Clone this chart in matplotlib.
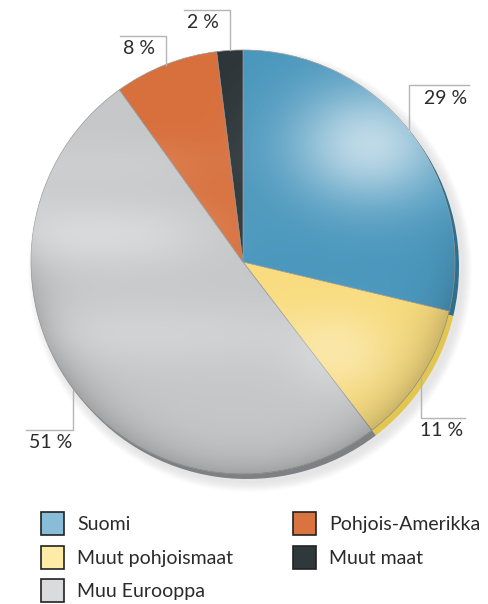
import numpy as np
import matplotlib
matplotlib.use("Agg")
import matplotlib.pyplot as plt
from matplotlib.patches import Circle, Rectangle

plt.rcParams['font.family'] = ['Lato', 'DejaVu Sans']

# data
regions = ["Suomi", "Muut pohjoismaat", "Muu Eurooppa", "Pohjois-Amerikka", "Muut maat"]
shares = [29, 11, 51, 8, 2]
pct_labels = ["29 %", "11 %", "51 %", "8 %", "2 %"]

pie_colors = ["#4a97bd", "#f9dc7e", "#c5c7c9", "#d8703d", "#2e3639"]
rim_colors = ["#2f6f8e", "#e2c64e", "#7e8083", "#a8552c", "#1c2224"]
legend_colors = ["#88bcd7", "#fdeba6", "#d9dbdc", "#d9733f", "#2f383b"]

# layout (pixels, y up)
W, H = 488, 604
cx, cy, R = 243, 342, 212
leader_y = [519, 186, 174, 568, 594]
leader_run = [60, 44, -47, -46, -46]
fs = 14

fig = plt.figure(figsize=(W / 100, H / 100), dpi=100)
ax = fig.add_axes([0, 0, 1, 1])

# soft shadow
for k in range(10):
    ax.add_patch(Circle((cx + 7, cy - 8), R + 10 - k, color="#9a9a9a",
                        alpha=0.025, lw=0))

# rim (thickness of the disc)
ax.pie(shares, colors=rim_colors, startangle=90, counterclock=False,
       center=(cx + 4, cy - 5), radius=R, wedgeprops=dict(lw=0))

wedges, _ = ax.pie(shares, colors=pie_colors, startangle=90, counterclock=False,
                   center=(cx, cy), radius=R,
                   wedgeprops=dict(lw=0.5, edgecolor="#9a9a9a"))

# gloss overlay
xs = np.linspace(cx - R, cx + R, 300)
ys = np.linspace(cy - R, cy + R, 300)
X, Y = np.meshgrid(xs, ys)
left = 1 / (1 + np.exp((X - 290) / 40))
far_left = 1 / (1 + np.exp((X - 190) / 25))
hl = 0.65 * np.exp(-(((X - 370) / 80) ** 2 + ((Y - 460) / 60) ** 2))
hl_y = 0.30 * np.exp(-(((X - 340) / 50) ** 2 + ((Y - 250) / 40) ** 2))
band1 = 0.35 * np.exp(-((Y - 370) / 35) ** 2) * far_left
band2 = 0.22 * np.exp(-((Y - 270) / 35) ** 2) * left
band3 = 0.12 * np.exp(-((Y - 440) / 25) ** 2) * far_left
rr = np.hypot(X - cx, Y - cy) / R
dark = 0.18 * np.clip(rr, 0, 1) ** 10 * np.clip((cy + 60 - Y) / 120, 0, 1)
rgba = np.zeros(X.shape + (4,))
white_a = np.clip(hl + hl_y + band1 + band2 + band3, 0, 0.8)
rgba[..., :3] = (white_a / (white_a + dark + 1e-9))[..., None]
rgba[..., 3] = np.clip(white_a + dark, 0, 0.85)
im = ax.imshow(rgba, extent=(cx - R, cx + R, cy - R, cy + R), origin="lower",
               interpolation="bilinear", zorder=3)
im.set_clip_path(Circle((cx, cy), R, transform=ax.transData))

# leader lines and labels
for w, txt, ly, run in zip(wedges, pct_labels, leader_y, leader_run):
    mid = np.deg2rad((w.theta1 + w.theta2) / 2)
    x0 = cx + R * np.cos(mid)
    y0 = cy + R * np.sin(mid)
    x1 = x0 + run
    ax.plot([x0, x0, x1], [y0, ly, ly], color="#b4b4b4", lw=1, zorder=2,
            solid_joinstyle="miter")
    if run > 0:
        ax.text(x1 - 2, ly - 13, txt, ha="right", va="center", fontsize=fs,
                color="#2a2a2a", zorder=5)
    else:
        ax.text(x1 + 3, ly - 13, txt, ha="left", va="center", fontsize=fs,
                color="#2a2a2a", zorder=5)

# legend
col_x = [41, 293]
row_y = [92, 58, 25]
sq = 23
for i, (name, c) in enumerate(zip(regions, legend_colors)):
    x = col_x[i // 3]
    y = row_y[i % 3]
    ax.add_patch(Rectangle((x, y - sq), sq, sq, facecolor=c, edgecolor="#222222",
                           lw=1.2, zorder=5))
    ax.text(x + sq + 13, y - sq / 2 - 1, name, ha="left", va="center",
            fontsize=fs, color="#2a2a2a")

ax.set_xlim(0, W)
ax.set_ylim(0, H)
ax.set_aspect("equal")
ax.axis("off")

fig.savefig("out.png", dpi=100, facecolor="white")
